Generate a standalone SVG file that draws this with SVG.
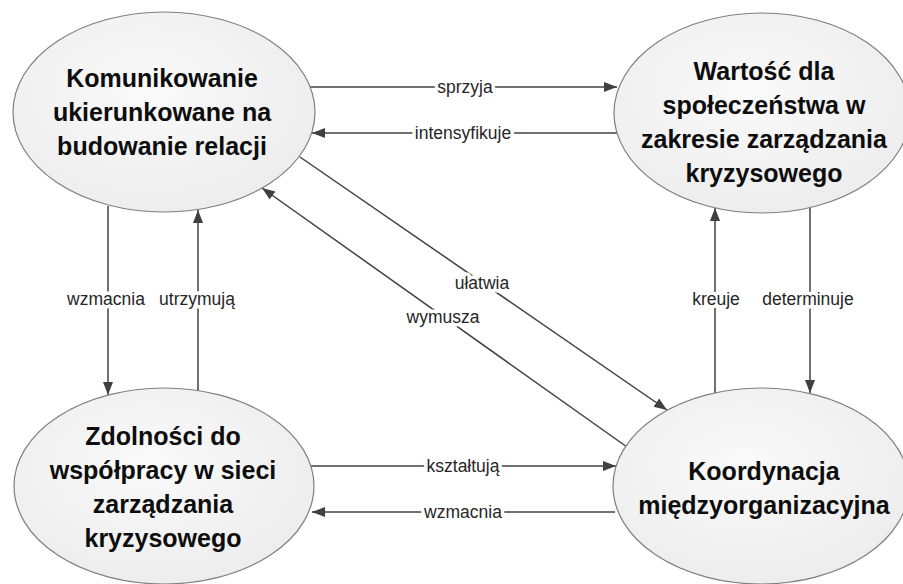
<svg xmlns="http://www.w3.org/2000/svg" width="903" height="584" viewBox="0 0 903 584">
  <style>
    .node { fill: url(#g); stroke: #7f7f7f; stroke-width: 1.2; }
    .nt { font-family: "Liberation Sans", Arial, sans-serif; font-weight: bold; font-size: 25px; fill: #0d0d0d; text-anchor: middle; }
    .edge { stroke: #404040; stroke-width: 1.5; fill: none; }
    .lbl { font-family: "Liberation Sans", Arial, sans-serif; font-size: 17.5px; fill: #262626; text-anchor: middle; stroke: #ffffff; stroke-width: 7px; paint-order: stroke fill; stroke-linejoin: round; }
  </style>
  <defs>
    <radialGradient id="g" cx="0.45" cy="0.4" r="0.65">
      <stop offset="0" stop-color="#fafafa"/>
      <stop offset="1" stop-color="#ececec"/>
    </radialGradient>
    <marker id="ah" markerUnits="userSpaceOnUse" markerWidth="14" markerHeight="12" refX="13" refY="6" orient="auto">
      <path d="M0,1 L13,6 L0,11 Z" fill="#404040"/>
    </marker>
  </defs>
  <rect width="903" height="584" fill="#ffffff"/>

  <g id="edges">
    <line class="edge" x1="310" y1="87" x2="617" y2="87" marker-end="url(#ah)"/>
    <line class="edge" x1="617" y1="133" x2="312" y2="133" marker-end="url(#ah)"/>
    <line class="edge" x1="300" y1="157" x2="667" y2="410" marker-end="url(#ah)"/>
    <line class="edge" x1="627" y1="447" x2="262" y2="188" marker-end="url(#ah)"/>
    <line class="edge" x1="108" y1="206" x2="108" y2="395" marker-end="url(#ah)"/>
    <line class="edge" x1="198" y1="391" x2="198" y2="210" marker-end="url(#ah)"/>
    <line class="edge" x1="715" y1="393" x2="715" y2="208" marker-end="url(#ah)"/>
    <line class="edge" x1="810" y1="208" x2="810" y2="393" marker-end="url(#ah)"/>
    <line class="edge" x1="311" y1="466" x2="616" y2="466" marker-end="url(#ah)"/>
    <line class="edge" x1="615" y1="512" x2="312" y2="512" marker-end="url(#ah)"/>
    <text class="lbl" x="465" y="93">sprzyja</text>
    <text class="lbl" x="463" y="139">intensyfikuje</text>
    <text class="lbl" x="482" y="289">ułatwia</text>
    <text class="lbl" x="443" y="323">wymusza</text>
    <text class="lbl" x="106" y="305">wzmacnia</text>
    <text class="lbl" x="197" y="305">utrzymują</text>
    <text class="lbl" x="716" y="305">kreuje</text>
    <text class="lbl" x="808" y="305">determinuje</text>
    <text class="lbl" x="463" y="472">kształtują</text>
    <text class="lbl" x="463" y="518">wzmacnia</text>
  </g>

  <g id="n1">
    <ellipse class="node" cx="164" cy="112" rx="151" ry="100"/>
    <text class="nt" x="162" y="87">Komunikowanie</text>
    <text class="nt" x="162" y="121">ukierunkowane na</text>
    <text class="nt" x="162" y="155">budowanie relacji</text>
  </g>
  <g id="n2">
    <ellipse class="node" cx="762" cy="113" rx="148" ry="100"/>
    <text class="nt" x="764" y="80">Wartość dla</text>
    <text class="nt" x="764" y="114">społeczeństwa w</text>
    <text class="nt" x="764" y="148">zakresie zarządzania</text>
    <text class="nt" x="764" y="182">kryzysowego</text>
  </g>
  <g id="n3">
    <ellipse class="node" cx="164" cy="486" rx="150" ry="98"/>
    <text class="nt" x="163" y="445">Zdolności do</text>
    <text class="nt" x="163" y="479">współpracy w sieci</text>
    <text class="nt" x="163" y="513">zarządzania</text>
    <text class="nt" x="163" y="547">kryzysowego</text>
  </g>
  <g id="n4">
    <ellipse class="node" cx="761" cy="486" rx="148" ry="98"/>
    <text class="nt" x="764" y="480">Koordynacja</text>
    <text class="nt" x="764" y="514">międzyorganizacyjna</text>
  </g>
</svg>
